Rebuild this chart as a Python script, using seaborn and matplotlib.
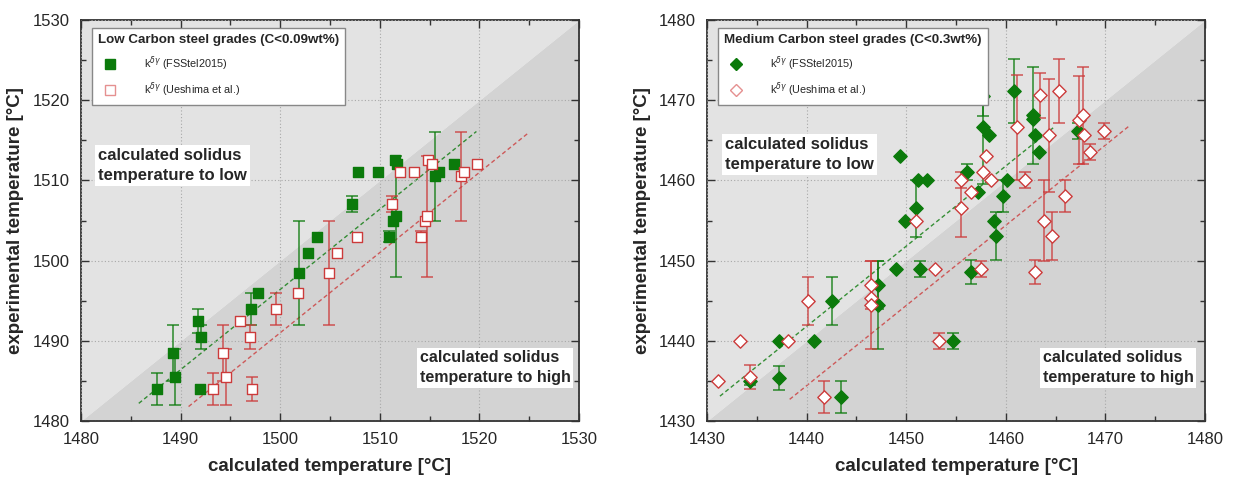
import numpy as np
import pandas as pd
import matplotlib
matplotlib.use("Agg")
import matplotlib.pyplot as plt
from matplotlib.lines import Line2D
from matplotlib.ticker import MultipleLocator
import seaborn as sns

sns.set_style("ticks")
plt.rcParams["font.family"] = ["Liberation Sans", "DejaVu Sans"]
plt.rcParams["mathtext.fontset"] = "dejavusans"

# ---- low carbon grades (left panel) ----
low_fs_x = [1487.6, 1489.2, 1489.4, 1491.7, 1492.0, 1491.9, 1497.1, 1497.8, 1501.9, 1502.8,
            1503.7, 1507.2, 1507.8, 1509.8, 1510.9, 1511.3, 1511.6, 1511.5, 1511.7, 1515.5,
            1515.9, 1517.4]
low_fs_y = [1484.0, 1488.5, 1485.5, 1492.5, 1490.5, 1484.0, 1494.0, 1496.0, 1498.5, 1501.0,
            1503.0, 1507.0, 1511.0, 1511.0, 1503.0, 1505.0, 1505.5, 1512.5, 1512.0, 1510.5,
            1511.0, 1512.0]
low_fs_err = [2.0, 3.5, 3.5, 1.5, 1.5, 0, 2.0, 0, 6.5, 0,
              0, 1.0, 0, 0, 0.7, 0, 7.5, 0, 0, 5.5,
              0, 0]

low_ue_x = [1493.3, 1494.3, 1494.6, 1496.0, 1497.0, 1497.2, 1499.6, 1501.8, 1504.9, 1505.7,
            1507.7, 1511.2, 1512.0, 1513.4, 1514.1, 1514.5, 1514.7, 1514.8, 1515.2, 1518.2,
            1518.5, 1519.8]
low_ue_y = low_fs_y
low_ue_err = [2.0, 3.5, 3.5, 0, 1.5, 1.5, 2.0, 0, 6.5, 0,
              0, 1.0, 0, 0, 0.7, 0, 7.5, 0, 0, 5.5,
              0, 0]

# linear fits (slope, intercept, x range)
low_fs_fit = (1.0, -3.6, 1485.8, 1519.7)
low_ue_fit = (1.0, -9.0, 1490.8, 1524.9)

# ---- medium carbon grades (right panel) ----
med_fs_x = [1434.3, 1437.2, 1437.2, 1440.7, 1442.5, 1443.5, 1447.2, 1447.2, 1449.0, 1449.4,
            1449.9, 1451.0, 1451.2, 1452.1, 1451.4, 1454.7, 1456.1, 1456.5, 1457.2, 1457.7,
            1457.7, 1458.3, 1458.8, 1459.0, 1459.7, 1460.1, 1460.8, 1462.7, 1462.7, 1462.9,
            1463.3, 1467.2]
med_fs_y = [1435.0, 1435.4, 1440.0, 1440.0, 1445.0, 1433.0, 1447.0, 1444.5, 1449.0, 1463.0,
            1455.0, 1456.5, 1460.0, 1460.0, 1449.0, 1440.0, 1461.1, 1448.6, 1458.5, 1470.5,
            1466.6, 1465.6, 1455.0, 1453.1, 1458.0, 1460.0, 1471.1, 1468.1, 1467.6, 1465.6,
            1463.6, 1466.1]
med_fs_err = [0.5, 1.5, 0, 0, 3.0, 2.0, 3.0, 5.5, 0, 0,
              0, 3.5, 0, 0, 1.0, 1.0, 1.0, 1.5, 0, 2.5,
              7.0, 0, 0, 3.0, 2.0, 0, 4.0, 6.0, 0, 0,
              0, 1.0]

med_ue_x = [1431.1, 1433.3, 1434.3, 1438.1, 1440.1, 1441.7, 1446.5, 1446.5, 1446.5, 1451.0,
            1452.9, 1453.3, 1455.5, 1455.5, 1456.5, 1457.5, 1457.7, 1458.0, 1458.5, 1461.1,
            1461.9, 1463.4, 1463.8, 1464.3, 1464.6, 1462.9, 1465.3, 1465.9, 1467.3, 1467.8,
            1467.9, 1468.5, 1469.9]
med_ue_y = [1435.0, 1440.0, 1435.5, 1440.0, 1445.0, 1433.0, 1447.0, 1445.3, 1444.5, 1455.0,
            1449.0, 1440.0, 1460.0, 1456.5, 1458.5, 1449.0, 1461.1, 1463.0, 1460.0, 1466.6,
            1460.0, 1470.6, 1455.0, 1465.6, 1453.1, 1448.6, 1471.1, 1458.0, 1467.5, 1468.1,
            1465.6, 1463.6, 1466.1]
med_ue_err = [0, 0, 1.5, 0, 3.0, 2.0, 3.0, 0, 5.5, 0,
              0, 1.0, 1.0, 3.5, 0, 1.0, 0, 0, 0, 6.5,
              1.0, 2.8, 5.0, 7.0, 3.0, 1.5, 4.0, 2.0, 5.5, 6.0,
              0, 1.0, 1.0]

med_fs_fit = (1.0, 1.8, 1431.3, 1464.9)
med_ue_fit = (1.0, -5.6, 1438.3, 1472.5)

GREEN = "#0b7a0b"
RED = "#cc3b3b"
LIGHT = "#e3e3e3"
DARK = "#d3d3d3"

panels = [
    dict(lim=(1480, 1530), title="Low Carbon steel grades (C<0.09wt%)", marker="s", ms=7,
         fs=(low_fs_x, low_fs_y, low_fs_err, low_fs_fit),
         ue=(low_ue_x, low_ue_y, low_ue_err, low_ue_fit),
         low_pos=(1481.7, 1514.0), high_pos=(1514.0, 1488.8)),
    dict(lim=(1430, 1480), title="Medium Carbon steel grades (C<0.3wt%)", marker="D", ms=6.8,
         fs=(med_fs_x, med_fs_y, med_fs_err, med_fs_fit),
         ue=(med_ue_x, med_ue_y, med_ue_err, med_ue_fit),
         low_pos=(1431.8, 1465.4), high_pos=(1463.7, 1438.8)),
]

fig = plt.figure(figsize=(12.33, 4.82), dpi=100)
lefts = [81 / 1233, 707 / 1233]

for p, left in zip(panels, lefts):
    ax = fig.add_axes([left, 61 / 482, 498 / 1233, 401 / 482])
    lo, hi = p["lim"]
    diag = np.array([lo, hi])
    ax.fill_between(diag, diag, hi, color=LIGHT, lw=0, zorder=0)
    ax.fill_between(diag, lo, diag, color=DARK, lw=0, zorder=0)
    ax.set_xlim(lo, hi)
    ax.set_ylim(lo, hi)

    for key, color, face in [("fs", GREEN, GREEN), ("ue", RED, "white")]:
        xs, ys, errs, fit = p[key]
        df = pd.DataFrame({"x": xs, "y": ys, "err": errs})
        slope, icpt, x0, x1 = fit
        fx = np.array([x0, x1])
        ax.plot(fx, slope * fx + icpt, ls=(0, (3, 2)), color=color, lw=1.0, alpha=0.8, zorder=2)
        eb = df[df["err"] > 0]
        ax.errorbar(eb["x"], eb["y"], yerr=eb["err"], fmt="none", ecolor=color,
                    elinewidth=1.1, capsize=4, capthick=1.1, alpha=0.85, zorder=3)
        sns.scatterplot(data=df, x="x", y="y", ax=ax, marker=p["marker"], s=p["ms"] ** 2,
                        color=face, edgecolor=color, linewidth=1.0, zorder=4, legend=False)

    ax.set_xlabel("calculated temperature [°C]", fontsize=13.5, fontweight="bold", labelpad=8)
    ax.set_ylabel("experimental temperature [°C]", fontsize=13.5, fontweight="bold", labelpad=6)
    ax.xaxis.set_major_locator(MultipleLocator(10))
    ax.yaxis.set_major_locator(MultipleLocator(10))
    ax.xaxis.set_minor_locator(MultipleLocator(5))
    ax.yaxis.set_minor_locator(MultipleLocator(5))
    ax.tick_params(which="both", direction="in", top=True, right=True, labelsize=12,
                   color="#333333", pad=8)
    ax.tick_params(which="major", length=6, width=1.0)
    ax.tick_params(which="minor", length=3.5, width=1.0)
    ax.grid(True, which="major", ls=(0, (1, 2)), color="#a8a8a8", lw=0.8)
    ax.set_axisbelow(False)
    for sp in ax.spines.values():
        sp.set_color("#333333")
        sp.set_linewidth(1.3)

    box = dict(facecolor="white", edgecolor="none", pad=2)
    ax.text(*p["low_pos"], "calculated solidus\ntemperature to low", fontsize=12,
            fontweight="bold", va="top", ha="left", bbox=box, zorder=6, linespacing=1.4)
    ax.text(*p["high_pos"], "calculated solidus\ntemperature to high", fontsize=11.5,
            fontweight="bold", va="top", ha="left", bbox=box, zorder=6, linespacing=1.4)

    handles = [
        Line2D([], [], marker=p["marker"], color=GREEN, mfc=GREEN, ls="none", ms=6.5),
        Line2D([], [], marker=p["marker"], color="#e59090", mfc="white", ls="none", ms=6.5),
    ]
    labels = [r"k$^{\delta\gamma}$ (FSStel2015)", r"k$^{\delta\gamma}$ (Ueshima et al.)"]
    leg = ax.legend(handles, labels, loc="upper left", bbox_to_anchor=(0.023, 0.98),
                    title=p["title"], title_fontproperties={"weight": "bold", "size": 9.6},
                    fontsize=7.8, frameon=True, fancybox=False, framealpha=1,
                    edgecolor="#888888", handletextpad=2.0, labelspacing=0.75,
                    borderpad=0.55, alignment="left", borderaxespad=0, handlelength=2.2)
    leg.set_zorder(10)

fig.savefig("out.png", dpi=100)
